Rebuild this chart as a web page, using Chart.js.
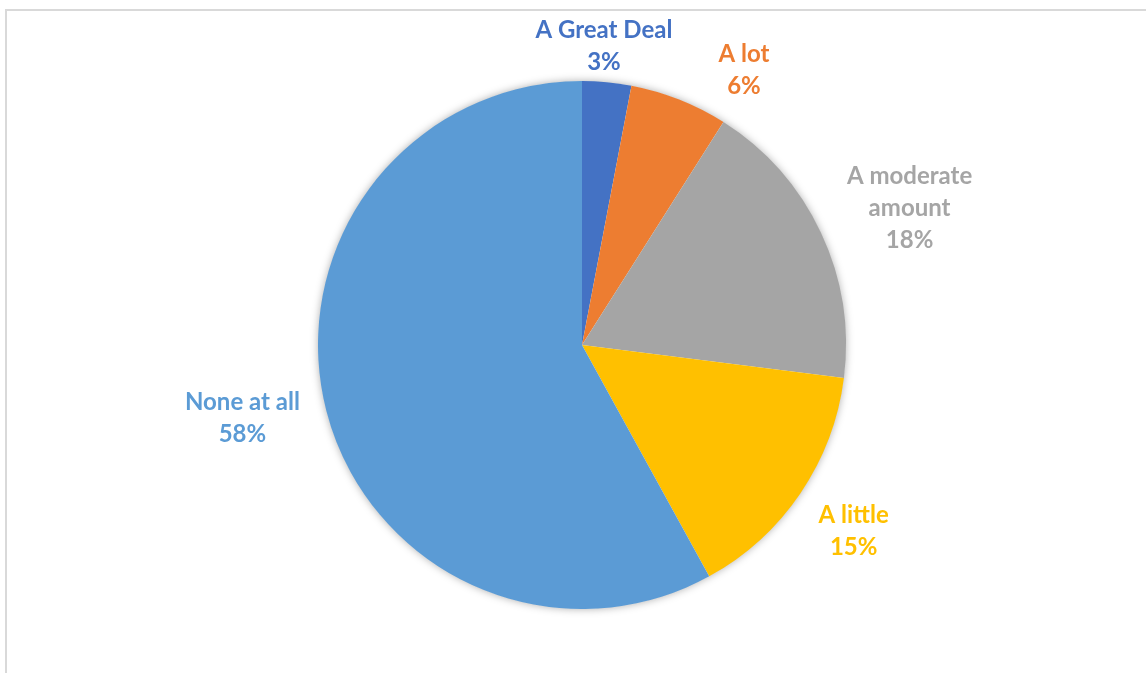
<!DOCTYPE html>
<html>
<head>
<meta charset="utf-8">
<script src="https://cdn.jsdelivr.net/npm/chart.js@4.4.1/dist/chart.umd.min.js"></script>
<style>
  html, body { margin: 0; padding: 0; background: #fff; }
  #wrap { position: relative; width: 1146px; height: 673px; overflow: hidden; }
  #frame { position: absolute; left: 5px; top: 9px; width: 1160px; height: 700px;
           border-top: 2px solid #d9d9d9; border-left: 2px solid #d9d9d9; box-sizing: border-box; }
  #mycanvas { position: absolute; left: 0; top: 0; }
</style>
</head>
<body>
<div id="wrap">
  <div id="frame"></div>
  <canvas id="mycanvas" width="1146" height="673"></canvas>
</div>
<script>
var answers = ["A Great Deal", "A lot", "A moderate amount", "A little", "None at all"];
var shares = [3, 6, 18, 15, 58];
var colours = ["#4472C4", "#ED7D31", "#A5A5A5", "#FFC000", "#5B9BD5"];

// soft drop shadow under the whole pie
var pieShadow = {
  id: 'pieShadow',
  beforeDatasetsDraw: function(chart) {
    var arc = chart.getDatasetMeta(0).data[0];
    if (!arc) return;
    var ctx = chart.ctx;
    ctx.save();
    ctx.shadowColor = 'rgba(0,0,0,0.35)';
    ctx.shadowBlur = 9;
    ctx.fillStyle = '#ffffff';
    ctx.beginPath();
    ctx.arc(arc.x, arc.y, arc.outerRadius - 0.5, 0, Math.PI * 2);
    ctx.fill();
    ctx.restore();
  }
};

// category + percent labels outside each slice
var outsideLabels = {
  id: 'outsideLabels',
  afterDatasetsDraw: function(chart, args, opts) {
    var ctx = chart.ctx;
    var meta = chart.getDatasetMeta(0);
    var data = chart.data.datasets[0].data;
    var total = data.reduce(function(a, b) { return a + b; }, 0);
    ctx.save();
    ctx.font = opts.font;
    ctx.textAlign = 'center';
    ctx.textBaseline = 'middle';
    meta.data.forEach(function(arc, i) {
      var place = opts.place[i];
      var mid = (arc.startAngle + arc.endAngle) / 2 + place[0] * Math.PI / 180;
      var dist = arc.outerRadius * place[1];
      var cx = arc.x + Math.cos(mid) * dist;
      var cy = arc.y + Math.sin(mid) * dist;

      // greedy word wrap
      var words = chart.data.labels[i].split(' ');
      var lines = [], line = '';
      for (var w = 0; w < words.length; w++) {
        var test = line ? line + ' ' + words[w] : words[w];
        if (line && ctx.measureText(test).width > opts.maxWidth) {
          lines.push(line);
          line = words[w];
        } else {
          line = test;
        }
      }
      lines.push(line);
      lines.push(Math.round(data[i] / total * 100) + '%');

      ctx.fillStyle = colours[i];
      var top = cy - (lines.length - 1) * opts.lineHeight / 2;
      lines.forEach(function(t, k) {
        ctx.fillText(t, cx, top + k * opts.lineHeight);
      });
    });
    ctx.restore();
  }
};

var ctx = document.getElementById('mycanvas');

var pieChart = new Chart(ctx, {
  type: 'pie',
  data: {
    labels: answers,
    datasets: [{
      data: shares,
      backgroundColor: colours,
      borderWidth: 0,
      hoverOffset: 0
    }]
  },
  options: {
    responsive: false,
    animation: false,
    events: [],
    layout: { padding: { left: 300, right: 282, top: 81, bottom: 64 } },
    plugins: {
      legend: { display: false },
      tooltip: { enabled: false },
      outsideLabels: {
        font: 'bold 24px Lato',
        lineHeight: 32,
        maxWidth: 150,
        // [angle nudge in degrees, distance as fraction of radius]
        place: [[-1.2, 1.134], [8.9, 1.209], [2.5, 1.345], [0.2, 1.247], [2.2, 1.316]]
      }
    }
  },
  plugins: [pieShadow, outsideLabels]
});
</script>
</body>
</html>
